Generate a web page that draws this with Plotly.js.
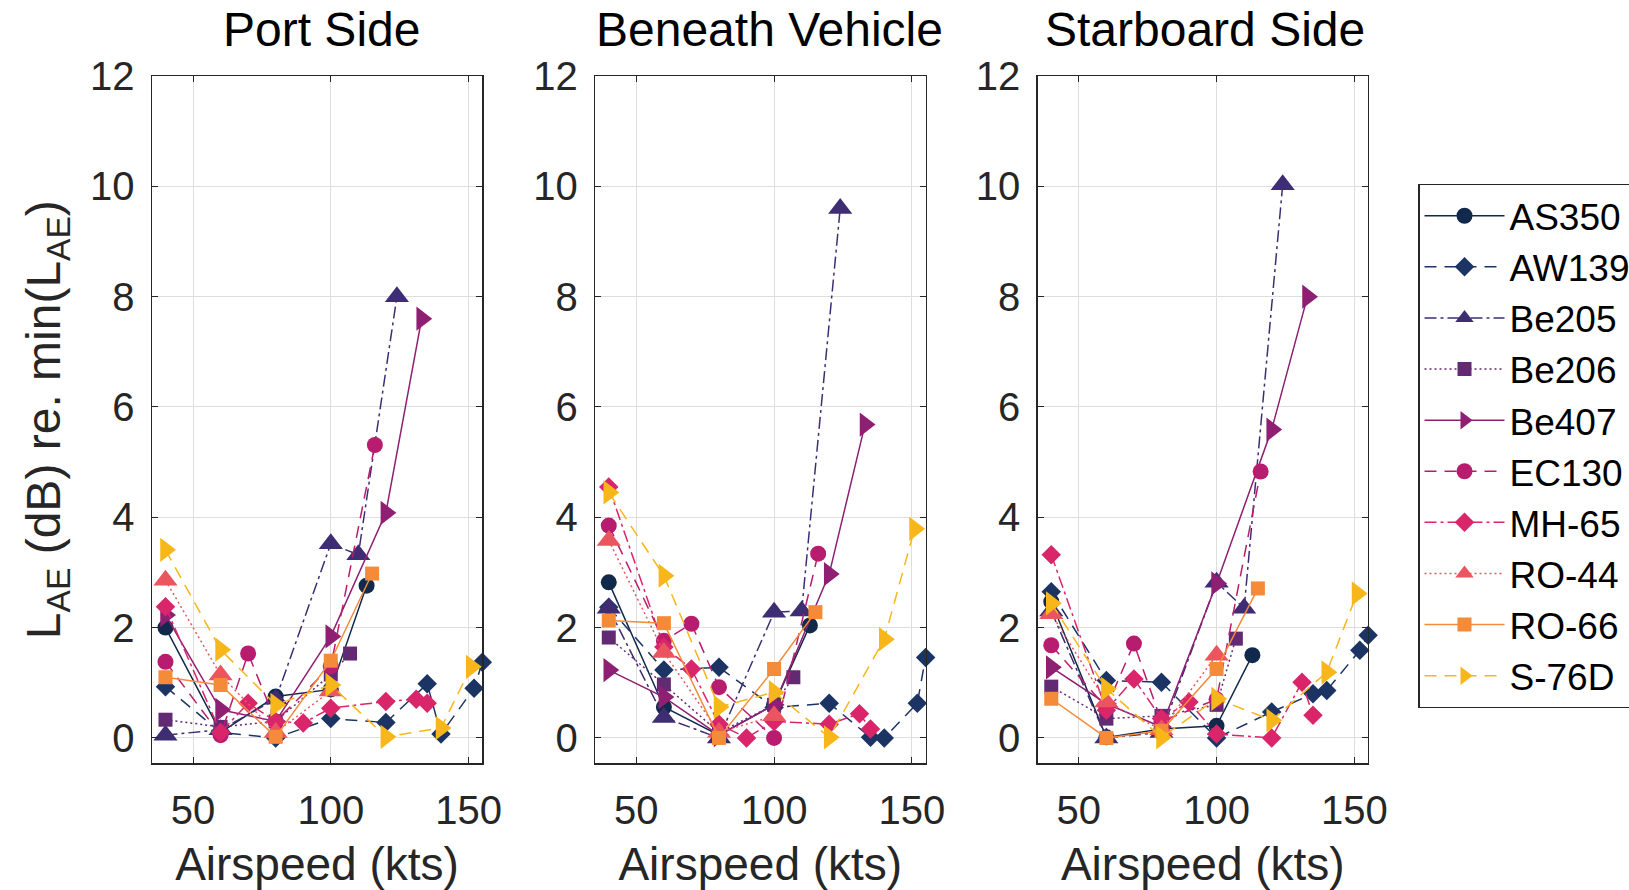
<!DOCTYPE html>
<html>
<head>
<meta charset="utf-8">
<script src="https://cdn.plot.ly/plotly-3.0.1.min.js"></script>
<style>
  html, body { margin: 0; padding: 0; background: #ffffff; }
  #chart { width: 1629px; height: 890px; }
</style>
</head>
<body>
<div id="chart"></div>
<script>
// ---------------- DATA ----------------
const panelTitles = ["Port Side", "Beneath Vehicle", "Starboard Side"];
const xTickVals = [50, 100, 150];
const yTickVals = [0, 2, 4, 6, 8, 10, 12];

const names = ["AS350", "AW139", "Be205", "Be206", "Be407", "EC130", "MH-65", "RO-44", "RO-66", "S-76D"];

// airspeeds (kts) per helicopter
const AS350_x = [40, 60, 80, 100, 113];
const AW139_x = [40, 60, 80, 100, 120, 135, 140, 152, 155];
const Be205_x = [40, 60, 80, 100, 110, 124];
const Be206_x = [40, 60, 80, 100, 107];
const Be407_x = [40, 60, 80, 100, 120, 133];
const EC130_x = [40, 60, 70, 80, 100, 116];
const MH65_x  = [40, 60, 70, 80, 90, 100, 120, 131, 135];
const RO44_x  = [40, 60, 80, 100];
const RO66_x  = [40, 60, 80, 100, 115];
const S76D_x  = [40, 60, 80, 100, 120, 140, 151];

// Port Side  L_AE re. min (dB)
const AS350_port = [2.0, 0.1, 0.75, 0.88, 2.76];
const AW139_port = [0.93, 0.1, 0.0, 0.35, 0.28, 0.98, 0.07, 0.9, 1.37];
const Be205_port = [0.05, 0.15, 0.7, 3.52, 3.32, 8.0];
const Be206_port = [0.33, 0.2, 0.3, 1.15, 1.53];
const Be407_port = [2.23, 0.51, 0.3, 1.84, 4.08, 7.6];
const EC130_port = [1.38, 0.05, 1.53, 0.3, 1.3, 5.31];
const MH65_port  = [2.38, 0.1, 0.63, 0.3, 0.27, 0.54, 0.66, 0.7, 0.63];
const RO44_port  = [2.86, 1.14, 0.1, 0.85];
const RO66_port  = [1.1, 0.96, 0.02, 1.4, 2.98];
const S76D_port  = [3.41, 1.6, 0.6, 0.96, 0.02, 0.18, 1.29];

// Beneath Vehicle
const AS350_beneath = [2.82, 0.56, 0.05, 0.6, 2.04];
const AW139_beneath = [2.37, 1.23, 1.28, 0.55, 0.63, 0.01, 0.0, 0.63, 1.46];
const Be205_beneath = [2.35, 0.37, 0.0, 2.28, 2.3, 9.6];
const Be206_beneath = [1.82, 0.97, 0.1, 0.6, 1.1];
const Be407_beneath = [1.23, 0.74, 0.05, 0.6, 2.97, 5.68];
const EC130_beneath = [3.85, 1.76, 2.07, 0.92, 0.0, 3.34];
const MH65_beneath  = [4.55, 1.65, 1.25, 0.25, 0.0, 0.3, 0.25, 0.44, 0.16];
const RO44_beneath  = [3.58, 1.55, 0.1, 0.4];
const RO66_beneath  = [2.13, 2.08, 0.0, 1.25, 2.28];
const S76D_beneath  = [4.45, 2.94, 0.56, 0.83, 0.01, 1.79, 3.79];

// Starboard Side
const AS350_starboard = [2.47, 0.01, 0.16, 0.22, 1.5];
const AW139_starboard = [2.65, 1.04, 1.01, 0.0, 0.47, 0.8, 0.86, 1.59, 1.86];
const Be205_starboard = [2.3, 0.0, 0.1, 2.82, 2.35, 10.03];
const Be206_starboard = [0.93, 0.35, 0.4, 0.6, 1.8];
const Be407_starboard = [1.28, 0.62, 0.2, 2.8, 5.59, 8.0];
const EC130_starboard = [1.68, 0.55, 1.71, 0.3, 0.7, 4.83];
const MH65_starboard  = [3.32, 0.5, 1.07, 0.35, 0.65, 0.07, 0.0, 1.01, 0.41];
const RO44_starboard  = [2.25, 0.65, 0.15, 1.5];
const RO66_starboard  = [0.71, 0.0, 0.13, 1.25, 2.71];
const S76D_starboard  = [2.44, 0.89, 0.01, 0.71, 0.32, 1.19, 2.62];

// ---------------- STYLE ----------------
const colors  = ["#112a4b", "#1c3464", "#3f2d73", "#632a74", "#8e1f73", "#b81c6e", "#d9266b", "#eb5560", "#f58a38", "#f7b619"];
const symbols = ["circle", "diamond", "triangle-up", "square", "triangle-right", "circle", "diamond", "triangle-up", "square", "triangle-right"];
const sizes   = [16, 15, 21, 14, 21, 16, 15, 21, 14, 21];
const dashes  = ["solid", "12px,8px", "12px,4px,3px,4px", "2px,3px", "solid", "12px,8px", "12px,4px,3px,4px", "2px,3px", "solid", "12px,8px"];

const xs = [AS350_x, AW139_x, Be205_x, Be206_x, Be407_x, EC130_x, MH65_x, RO44_x, RO66_x, S76D_x];
const panelData = [
  [AS350_port, AW139_port, Be205_port, Be206_port, Be407_port, EC130_port, MH65_port, RO44_port, RO66_port, S76D_port],
  [AS350_beneath, AW139_beneath, Be205_beneath, Be206_beneath, Be407_beneath, EC130_beneath, MH65_beneath, RO44_beneath, RO66_beneath, S76D_beneath],
  [AS350_starboard, AW139_starboard, Be205_starboard, Be206_starboard, Be407_starboard, EC130_starboard, MH65_starboard, RO44_starboard, RO66_starboard, S76D_starboard]
];

const FONT = "Liberation Sans, Arial, Helvetica, sans-serif";
const TXT = "#262626";

const traces = [];
for (let p = 0; p < 3; p++) {
  const suffix = p === 0 ? "" : String(p + 1);
  for (let i = 0; i < names.length; i++) {
    traces.push({
      type: "scatter",
      mode: "lines+markers",
      name: names[i],
      legendgroup: names[i],
      showlegend: p === 0,
      x: xs[i],
      y: panelData[p][i],
      xaxis: "x" + suffix,
      yaxis: "y" + suffix,
      cliponaxis: false,
      line: { color: colors[i], width: 1.5, dash: dashes[i] },
      marker: { symbol: symbols[i], size: sizes[i], color: colors[i], line: { width: 0 } }
    });
  }
}

// ---------------- LAYOUT ----------------
const W = 1629, H = 890;
const panelsPx = [[151.7, 482.3], [595.0, 925.6], [1037.5, 1368.1]];
const titleCentersPx = [321, 769, 1205];
const yTopPx = 76, yBotPx = 763.3;
const yDomain = [1 - yBotPx / H, 1 - yTopPx / H];

function xAxis(dom, anchor) {
  return {
    domain: dom, anchor: anchor, range: [35, 155],
    tickmode: "array", tickvals: xTickVals,
    ticks: "inside", ticklen: 6, tickwidth: 1, tickcolor: TXT,
    showline: true, linecolor: TXT, linewidth: 1.2, mirror: "ticks",
    showgrid: true, gridcolor: "#dedede", gridwidth: 1, zeroline: false,
    tickfont: { family: FONT, size: 40, color: TXT },
    ticklabelstandoff: 11,
    title: { text: "Airspeed (kts)", font: { family: FONT, size: 46, color: TXT }, standoff: 19 },
    fixedrange: true
  };
}
function yAxis(anchor, withTitle) {
  const a = {
    domain: yDomain, anchor: anchor, range: [-0.46, 12],
    tickmode: "array", tickvals: yTickVals,
    ticks: "inside", ticklen: 6, tickwidth: 1, tickcolor: TXT,
    showline: true, linecolor: TXT, linewidth: 1.2, mirror: "ticks",
    showgrid: true, gridcolor: "#dedede", gridwidth: 1, zeroline: false,
    tickfont: { family: FONT, size: 40, color: TXT },
    ticklabelstandoff: 8,
    fixedrange: true
  };
  if (withTitle) {
    a.title = { text: "L<sub>AE</sub> (dB) re. min(L<sub>AE</sub>)", font: { family: FONT, size: 48, color: TXT }, standoff: 14 };
  }
  return a;
}

const annotations = panelTitles.map((t, k) => ({
  text: t, xref: "paper", yref: "paper",
  x: titleCentersPx[k] / W,
  y: 1 - 30 / H, xanchor: "center", yanchor: "middle",
  showarrow: false, font: { family: FONT, size: 48, color: "#000000" }
}));

const layout = {
  width: W, height: H,
  margin: { l: 0, r: 0, t: 0, b: 0, autoexpand: false },
  paper_bgcolor: "#ffffff", plot_bgcolor: "#ffffff",
  font: { family: FONT, color: TXT },
  showlegend: true,
  legend: {
    x: 1418.3 / W, xanchor: "left", y: 1 - 184 / H, yanchor: "top",
    bgcolor: "#ffffff", bordercolor: TXT, borderwidth: 1.2,
    font: { family: FONT, size: 37, color: "#000000" },
    itemwidth: 80, tracegroupgap: 0, itemclick: false, itemdoubleclick: false
  },
  xaxis:  xAxis([panelsPx[0][0] / W, panelsPx[0][1] / W], "y"),
  xaxis2: xAxis([panelsPx[1][0] / W, panelsPx[1][1] / W], "y2"),
  xaxis3: xAxis([panelsPx[2][0] / W, panelsPx[2][1] / W], "y3"),
  yaxis:  yAxis("x", true),
  yaxis2: yAxis("x2", false),
  yaxis3: yAxis("x3", false),
  annotations: annotations
};

Plotly.newPlot("chart", traces, layout, { staticPlot: true, displayModeBar: false });
</script>
</body>
</html>
